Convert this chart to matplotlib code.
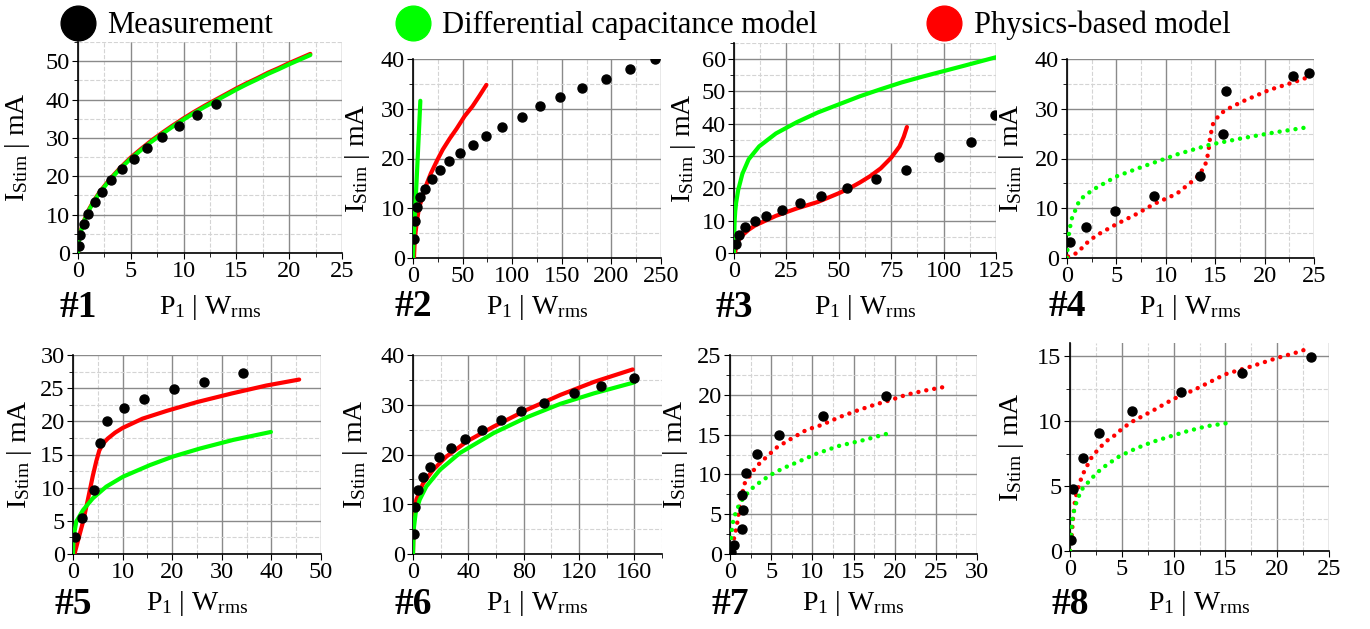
import matplotlib
matplotlib.use('Agg')
import matplotlib.pyplot as plt
from matplotlib.lines import Line2D
from matplotlib.ticker import MultipleLocator

plt.rcParams['font.family'] = ['Liberation Serif', 'DejaVu Serif']
plt.rcParams['mathtext.fontset'] = 'custom'
plt.rcParams['mathtext.rm'] = 'Liberation Serif'
plt.rcParams['mathtext.it'] = 'Liberation Serif:italic'

# ---- data (P in W_rms, I in mA) ----

# #1
meas1_p = [0.06, 0.22, 0.54, 0.95, 1.58, 2.31, 3.16, 4.18, 5.32, 6.58, 7.97, 9.53, 11.23, 13.04]
meas1_i = [1.9, 4.6, 7.5, 10.2, 13.2, 16.0, 19.1, 21.8, 24.6, 27.5, 30.3, 33.1, 36.0, 38.9]
dc1_p = [0, 0.05, 0.2, 0.5, 1, 1.5, 2, 3, 4, 5, 6, 7, 8, 9, 10, 11, 12, 13, 14, 15, 16, 17, 18, 19, 20, 21, 22]
dc1_i = [0, 2.4, 4.9, 7.8, 11.0, 13.4, 15.5, 19.0, 22.0, 24.6, 26.9, 29.1, 31.1, 33.0, 34.8, 36.5, 38.1,
         39.6, 41.1, 42.6, 44.0, 45.3, 46.7, 47.9, 49.2, 50.4, 51.6]
pb1_p = [0, 0.05, 0.2, 0.5, 1, 1.5, 2, 3, 4, 5, 6, 7, 8, 9, 10, 11, 12, 13, 14, 15, 16, 17, 18, 19, 20, 21, 22]
pb1_i = [0, 2.6, 5.1, 8.0, 11.2, 13.6, 15.7, 19.2, 22.2, 24.9, 27.2, 29.4, 31.4, 33.3, 35.1, 36.8, 38.4,
         39.9, 41.4, 42.9, 44.3, 45.6, 47.0, 48.2, 49.5, 50.7, 51.9]

# #2
meas2_p = [0.7, 2.0, 4.0, 7.4, 12.5, 19.5, 27.0, 36.4, 47.2, 60.0, 73.5, 89.3, 109.5, 128.4, 147.9,
           170.5, 194.1, 218.3, 244.3]
meas2_i = [3.8, 7.4, 10.2, 12.3, 13.9, 15.9, 17.6, 19.4, 21.1, 22.8, 24.5, 26.3, 28.3, 30.5, 32.3,
           34.2, 36.0, 37.9, 39.9]
dc2_p = [0, 0.3, 1.0, 2.3, 3.5, 4.7, 6.0, 7.4]
dc2_i = [0, 2, 5, 10, 15, 20, 25.5, 31.6]
pb2_p = [1, 1.5, 2.5, 4, 6, 9, 13, 18, 24, 30, 37, 44, 52, 60, 67, 74]
pb2_i = [0, 2.5, 5, 7.5, 10, 12, 14.5, 17, 19.5, 21.8, 24, 26, 28.5, 30.5, 32.6, 34.8]

# #3
meas3_p = [0.8, 2.2, 5.3, 9.9, 15.3, 22.8, 31.7, 41.7, 54.1, 67.7, 82.2, 97.8, 113.1, 124.5]
meas3_i = [2.8, 5.7, 8.0, 9.8, 11.5, 13.4, 15.5, 17.7, 20.2, 22.8, 25.8, 29.6, 34.3, 42.6]
dc3_p = [0, 0.1, 0.3, 0.6, 1, 2, 4, 7, 12, 20, 30, 40, 50, 60, 70, 80, 90, 100, 110, 125]
dc3_i = [0, 5, 10, 13, 15.5, 19.5, 24.5, 29, 33, 37, 40.5, 43.5, 46, 48.5, 50.7, 52.8, 54.6, 56.3, 58, 60.6]
pb3_p = [0.5, 1, 2, 4, 7, 10, 15, 20, 30, 40, 50, 55, 60, 65, 70, 75, 79, 81, 82.5]
pb3_i = [0, 2, 3.8, 5.5, 7.2, 8.5, 10, 11.5, 13.8, 15.8, 18.5, 20, 21.8, 23.8, 26.2, 29.5, 33, 36, 39]

# #4
meas4_p = [0.27, 1.9, 4.86, 8.85, 13.45, 15.8, 16.1, 22.9, 24.5]
meas4_i = [3.2, 6.3, 9.4, 12.5, 16.5, 24.9, 33.6, 36.6, 37.1]
dc4_p = [0, 0.1, 0.44, 1.28, 2.6, 5, 7.7, 10, 11.1, 14.5, 17.8, 21.2, 24.4]
dc4_i = [0, 3.7, 7.7, 11.7, 13.7, 16.4, 18.4, 20.0, 20.8, 22.8, 24.1, 25.3, 26.3]
pb4_p = [0.1, 1, 1.6, 2.3, 3.3, 5, 7, 8.85, 11.1, 13.1, 13.95, 14.3, 14.5, 14.8, 15.5, 16.5, 17.8,
         20.5, 22.9, 24.5]
pb4_i = [0.3, 1.0, 2.2, 3.6, 4.9, 6.8, 8.8, 10.9, 12.9, 16.1, 18.4, 21.1, 24.5, 27.1, 29.0, 30.2, 31.5,
         33.8, 35.3, 36.4]

# #5
meas5_p = [0.47, 1.75, 4.3, 5.5, 6.9, 10.3, 14.4, 20.35, 26.5, 34.2]
meas5_i = [2.5, 5.5, 9.65, 16.7, 20.05, 21.96, 23.4, 24.9, 26.0, 27.3]
dc5_p = [0, 0.13, 0.67, 2, 4, 6.7, 10.1, 15.5, 20.2, 25.6, 32.3, 39.9]
dc5_i = [0, 2.6, 4.9, 6.6, 8.4, 10.15, 11.66, 13.4, 14.7, 15.9, 17.2, 18.4]
pb5_p = [0.3, 1, 2, 3, 4, 4.7, 5.3, 6, 7, 8.5, 10, 14, 19, 25, 32, 39, 45.6]
pb5_i = [0, 2, 4.8, 8.2, 11.8, 14, 15.6, 16.6, 17.4, 18.3, 19.0, 20.4, 21.6, 22.9, 24.2, 25.4, 26.3]

# #6
meas6_p = [0.7, 1.45, 3.6, 7.3, 12.6, 18.9, 27.4, 37.6, 49.9, 63.8, 77.8, 94.8, 116.1, 135.8, 160]
meas6_i = [4.0, 9.4, 12.9, 15.45, 17.5, 19.4, 21.3, 23.1, 24.95, 26.96, 28.76, 30.4, 32.3, 33.85, 35.3]
dc6_p = [0, 0.5, 1.9, 4.8, 9.7, 19.4, 33.9, 58.2, 82.4, 106.7, 130.9, 160]
dc6_i = [0, 4.9, 8.2, 10.9, 13.6, 16.9, 20.3, 24.3, 27.5, 30.2, 32.3, 34.5]
pb6_p = [0, 0.5, 2.4, 7.3, 14.5, 24.2, 38.8, 58.2, 82.4, 106.7, 130.9, 158.8]
pb6_i = [0, 7.6, 10.9, 14.2, 16.9, 19.6, 22.6, 25.6, 29.0, 32.0, 34.6, 37.1]

# #7
meas7_p = [0.12, 0.49, 1.5, 1.6, 1.4, 1.9, 3.3, 6.0, 11.3, 18.9]
meas7_i = [0.3, 1.13, 3.2, 5.5, 7.4, 10.2, 12.6, 14.95, 17.3, 19.85]
dc7_p = [0, 0.08, 0.2, 0.4, 0.7, 1.1, 1.6, 2.4, 3.2, 4.85, 6.5, 8.1, 10.5, 13.3, 16.2, 19.4]
dc7_i = [0, 1.3, 2.8, 4.3, 5.2, 6.2, 7.0, 8.0, 8.7, 9.9, 10.8, 11.5, 12.6, 13.6, 14.3, 15.2]
pb7_p = [0, 0.4, 0.8, 1.0, 1.2, 1.8, 3.2, 4.65, 5.7, 7.3, 9.3, 11.1, 13.3, 15.4, 17.4, 19.4, 21.4,
         23.5, 26.1]
pb7_i = [0, 1.55, 3.4, 4.7, 6.4, 8.9, 11.0, 12.4, 13.4, 14.4, 15.6, 16.2, 17.2, 18.0, 18.7, 19.3, 20.0,
         20.5, 21.0]

# #8
meas8_p = [0.06, 0.32, 1.22, 2.8, 5.95, 10.73, 16.6, 23.3]
meas8_i = [0.85, 4.74, 7.13, 9.1, 10.77, 12.26, 13.72, 14.9]
dc8_p = [0, 0.06, 0.16, 0.32, 0.64, 1.1, 1.77, 2.57, 3.5, 4.8, 6.4, 8.0, 9.6, 11.25, 13.2, 15.7]
dc8_i = [0, 0.6, 1.9, 2.9, 3.8, 4.7, 5.3, 6.0, 6.6, 7.3, 7.9, 8.4, 8.8, 9.2, 9.6, 9.9]
pb8_p = [0, 0.16, 0.3, 0.5, 0.9, 1.3, 2, 2.8, 3.6, 4.5, 5, 6, 8, 10, 12, 15, 17.5, 20, 22, 23.1]
pb8_i = [0, 1.2, 2.5, 4.0, 5.2, 6.0, 7.1, 7.9, 8.5, 9.0, 9.4, 9.95, 10.8, 11.7, 12.4, 13.6, 14.2,
         14.85, 15.3, 15.6]

W, H = 1370, 629
fig = plt.figure(figsize=(W / 100, H / 100), dpi=100)

GREEN = '#00ff00'
RED = '#ff0000'

# (left, top, right, bottom) in pixels, xlim, ylim, x major, y major, dotted?, ylabel offset px
panels = [
    ((78, 42, 342, 253), 25, 55, 5, 10, False, 60, meas1_p, meas1_i, dc1_p, dc1_i, pb1_p, pb1_i),
    ((413, 59, 661, 258), 250, 40, 50, 10, False, 55, meas2_p, meas2_i, dc2_p, dc2_i, pb2_p, pb2_i),
    ((734, 43, 996, 253), 125, 65, 25, 10, False, 51, meas3_p, meas3_i, dc3_p, dc3_i, pb3_p, pb3_i),
    ((1067, 59, 1314, 258), 25, 40, 5, 10, True, 56, meas4_p, meas4_i, dc4_p, dc4_i, pb4_p, pb4_i),
    ((73, 355, 321, 554), 50, 30, 10, 5, False, 54, meas5_p, meas5_i, dc5_p, dc5_i, pb5_p, pb5_i),
    ((413, 355, 662, 554), 180, 40, 40, 10, False, 57, meas6_p, meas6_i, dc6_p, dc6_i, pb6_p, pb6_i),
    ((730, 355, 977, 554), 30, 25, 5, 5, True, 55, meas7_p, meas7_i, dc7_p, dc7_i, pb7_p, pb7_i),
    ((1070, 343, 1329, 551), 25, 16, 5, 5, True, 58, meas8_p, meas8_i, dc8_p, dc8_i, pb8_p, pb8_i),
]

for k, (box, xmax, ymax, xmaj, ymaj, dotted, yoff, mp, mi, dp, di, pp, pi) in enumerate(panels):
    l, t, r, b = box
    ax = fig.add_axes([l / W, 1 - b / H, (r - l) / W, (b - t) / H])
    wpx, hpx = r - l, b - t

    if dotted:
        style = dict(lw=3.2, linestyle=(0, (0.01, 1.8)), dash_capstyle='round')
    else:
        style = dict(lw=3.0, solid_capstyle='round')
    ax.plot(pp, pi, color=RED, zorder=3, **style)
    ax.plot(dp, di, color=GREEN, zorder=4, **style)
    ax.plot(mp, mi, 'o', color='black', ms=6.5, zorder=5)

    ax.set_xlim(0, xmax)
    ax.set_ylim(0, ymax)
    ax.xaxis.set_major_locator(MultipleLocator(xmaj))
    ax.xaxis.set_minor_locator(MultipleLocator(xmaj / 2))
    ax.yaxis.set_major_locator(MultipleLocator(ymaj))
    ax.yaxis.set_minor_locator(MultipleLocator(ymaj / 2))
    ax.grid(which='major', color='#8a8a8a', lw=1.0)
    ax.grid(which='minor', color='#d4d4d4', lw=0.8, ls='--')
    ax.set_axisbelow(True)
    for s in ('top', 'right'):
        ax.spines[s].set_visible(False)
    for s in ('left', 'bottom'):
        ax.spines[s].set_linewidth(1.2)
    ax.tick_params(which='both', direction='out', labelsize=17.5, pad=2)
    ax.tick_params(which='major', length=4)
    ax.tick_params(which='minor', length=3)

    row_y = 307 if t < 300 else 604
    ax.set_xlabel(r'P$_1$ | W$_{\mathrm{rms}}$', fontsize=20)
    ax.xaxis.set_label_coords(0.5, -(row_y - b) / hpx)
    ax.xaxis.label.set_va('center')
    ax.set_ylabel(r'I$_{\mathrm{Stim}}$ | mA', fontsize=20)
    ax.yaxis.set_label_coords(-yoff / wpx, 0.5)
    ax.yaxis.label.set_va('center')
    ax.text(0, -(row_y - b) / hpx, '#%d' % (k + 1), transform=ax.transAxes,
            ha='center', va='center', fontsize=27, fontweight='bold')

# legend row at the top
legend_items = [('Measurement', 'black', 78, 107),
                ('Differential capacitance model', GREEN, 413, 442),
                ('Physics-based model', RED, 944, 974)]
for label, col, mx, tx in legend_items:
    fig.add_artist(Line2D([mx / W], [1 - 23 / H], marker='o', ms=25, color=col, ls='none',
                          transform=fig.transFigure))
    fig.text(tx / W, 1 - 33 / H, label, fontsize=22, va='baseline', ha='left')

fig.savefig('out.png', dpi=100)
